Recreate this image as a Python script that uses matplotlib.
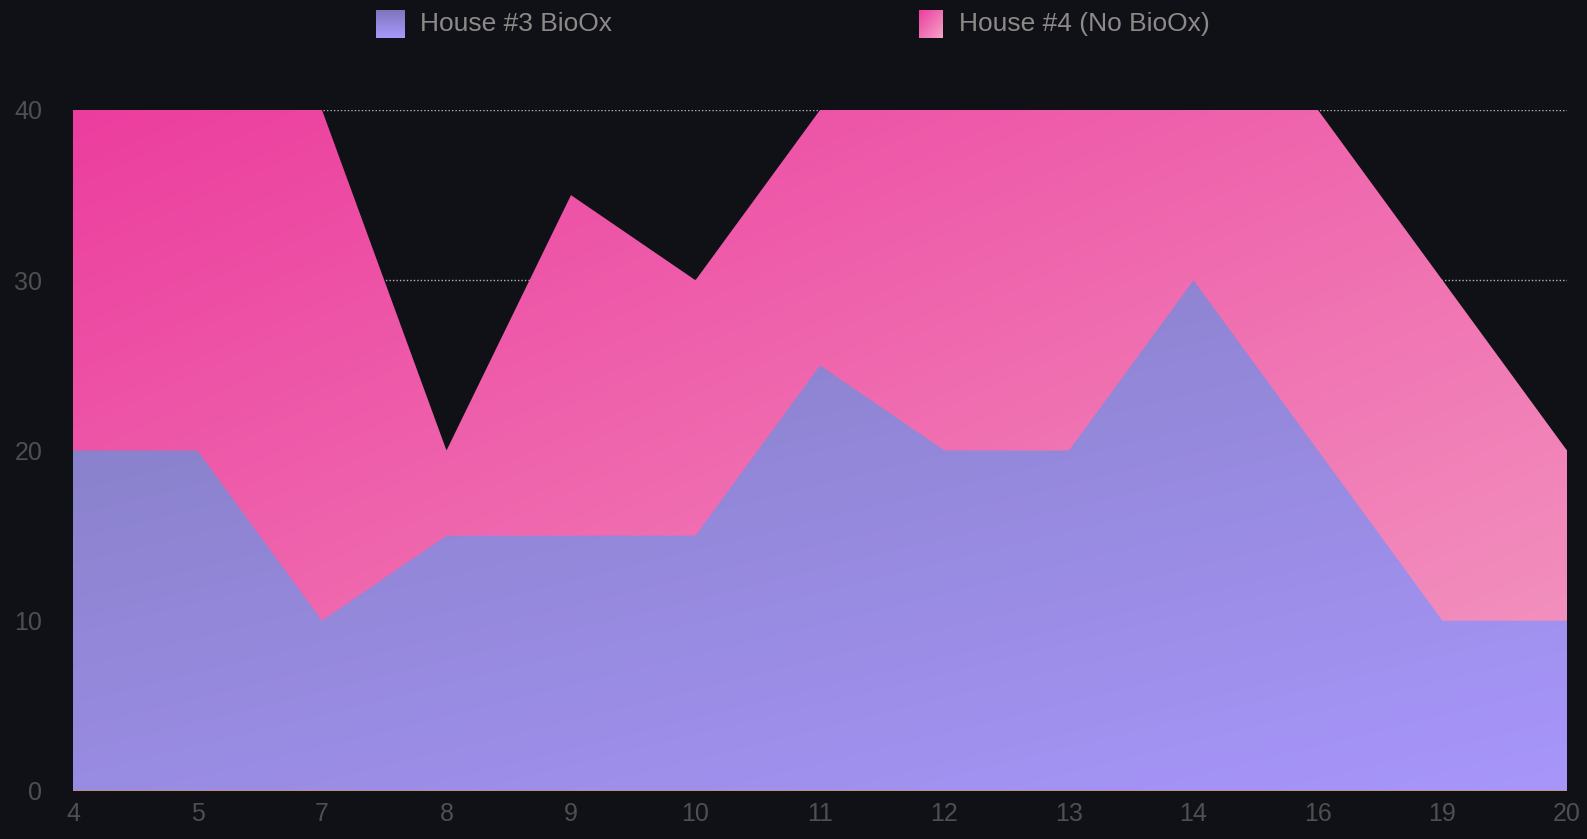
import matplotlib.pyplot as plt
import numpy as np
from matplotlib.colors import to_rgb

# data
labels = ['4', '5', '7', '8', '9', '10', '11', '12', '13', '14', '16', '19', '20']
house3 = [20, 20, 10, 15, 15, 15, 25, 20, 20, 30, 20, 10, 10]
house4 = [40, 40, 40, 20, 35, 30, 40, 40, 40, 40, 40, 30, 20]
series_names = ['House #3 BioOx', 'House #4 (No BioOx)']

bg = '#0f1116'
tick_col = '#4f4f52'
legend_col = '#8c8a88'

plt.rcParams['font.family'] = ['Liberation Sans', 'DejaVu Sans']


def gradient(c0, c1, wx, wy, n=300):
    # t grows to the right (wx) and downwards (wy), image origin at top
    xx, yy = np.meshgrid(np.linspace(0, 1, n), np.linspace(0, 1, n))
    t = np.clip(wx * xx + wy * yy, 0, 1)[..., None]
    a = np.array(to_rgb(c0))
    b = np.array(to_rgb(c1))
    return a + (b - a) * t


fig = plt.figure(figsize=(15.87, 8.39), dpi=100, facecolor=bg)
ax = fig.add_axes([73 / 1587, 1 - 791 / 839, 1494 / 1587, 681 / 839])
ax.set_facecolor(bg)

x = np.arange(len(labels))
ymax = 40

layers = [
    (house4, '#ec3d9e', '#f39bc2', 0.5, 0.5),
    (house3, '#7c78b5', '#a896fb', 0.35, 0.65),
]
for i, (vals, c0, c1, wx, wy) in enumerate(layers):
    poly = ax.fill_between(x, 0, vals, facecolor='none', edgecolor='none')
    img = ax.imshow(gradient(c0, c1, wx, wy), extent=(0, len(labels) - 1, 0, ymax),
                    aspect='auto', zorder=2 + i, interpolation='bilinear')
    img.set_clip_path(poly.get_paths()[0], transform=ax.transData)

ax.axhline(0, color='#c98f6c', lw=1.2, zorder=5)

ax.set_xlim(0, len(labels) - 1)
ax.set_ylim(0, ymax)
ax.set_xticks(x)
ax.set_xticklabels(labels)
ax.set_yticks([0, 10, 20, 30, 40])
ax.yaxis.grid(True, color='#b5b5b5', lw=1, linestyle=(0, (1, 1.5)), zorder=1)
ax.set_axisbelow(True)
ax.tick_params(axis='both', length=0, colors=tick_col, labelsize=18)
ax.tick_params(axis='x', pad=8)
ax.tick_params(axis='y', pad=22)
for s in ax.spines.values():
    s.set_visible(False)

# legend with gradient boxes
legend_items = [
    (series_names[0], 376, 29, '#7d76be', '#a898fa', 0.0, 1.0, 420),
    (series_names[1], 919, 24, '#ec3d9e', '#f4a3c8', 0.5, 0.5, 959),
]
for name, lx, lw, c0, c1, wx, wy, tx in legend_items:
    lax = fig.add_axes([lx / 1587, 1 - 38 / 839, lw / 1587, 28 / 839])
    lax.imshow(gradient(c0, c1, wx, wy, 50), aspect='auto', extent=(0, 1, 0, 1))
    lax.axis('off')
    fig.text(tx / 1587, 1 - 24 / 839, name, color=legend_col, fontsize=19,
             va='center', ha='left')

fig.savefig('out.png', dpi=100, facecolor=bg)
